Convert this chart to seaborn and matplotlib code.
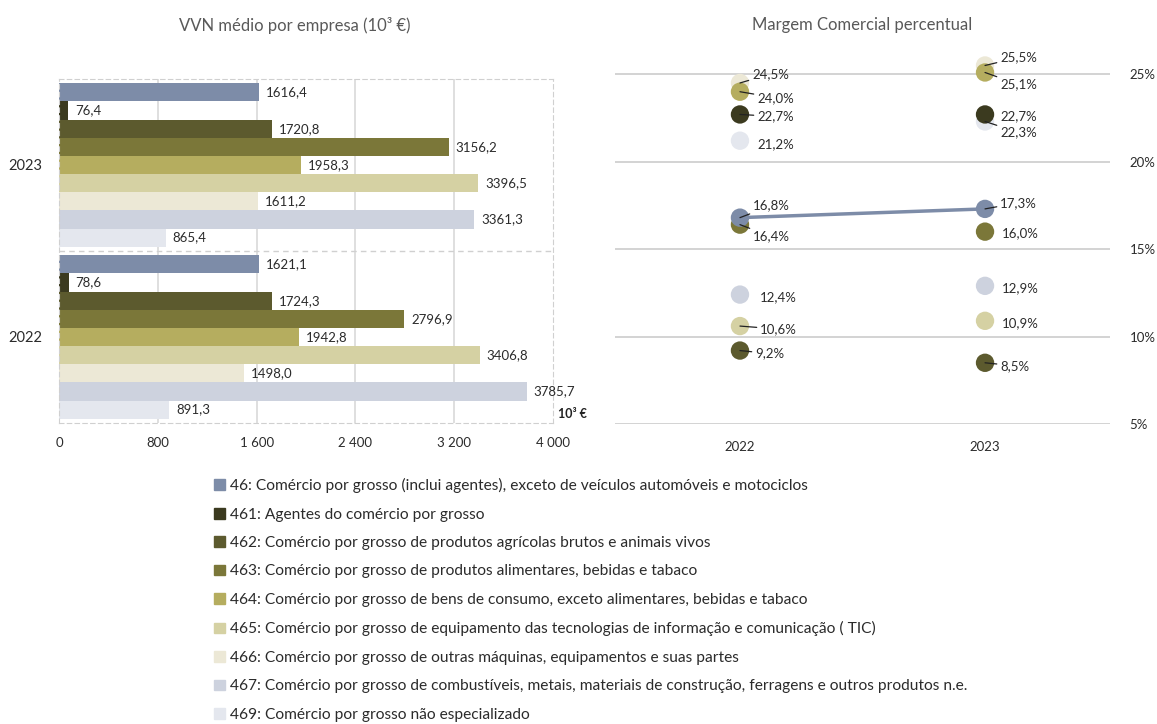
import pandas as pd
import matplotlib.pyplot as plt
import seaborn as sns

# data
years = ["2023", "2022"]
sectors = ["46", "461", "462", "463", "464", "465", "466", "467", "469"]
sector_names = [
    "46: Comércio por grosso (inclui agentes), exceto de veículos automóveis e motociclos",
    "461: Agentes do comércio por grosso",
    "462: Comércio por grosso de produtos agrícolas brutos e animais vivos",
    "463: Comércio por grosso de produtos alimentares, bebidas e tabaco",
    "464: Comércio por grosso de bens de consumo, exceto alimentares, bebidas e tabaco",
    "465: Comércio por grosso de equipamento das tecnologias de informação e comunicação ( TIC)",
    "466: Comércio por grosso de outras máquinas, equipamentos e suas partes",
    "467: Comércio por grosso de combustíveis, metais, materiais de construção, ferragens e outros produtos n.e.",
    "469: Comércio por grosso não especializado",
]
colors = ["#7d8ca8", "#3b3a1f", "#5c5a2e", "#7b7739", "#b5ad5f",
          "#d5d1a3", "#ece8d6", "#cdd2de", "#e4e7ee"]

vvn_2023 = [1616.4, 76.4, 1720.8, 3156.2, 1958.3, 3396.5, 1611.2, 3361.3, 865.4]
vvn_2022 = [1621.1, 78.6, 1724.3, 2796.9, 1942.8, 3406.8, 1498.0, 3785.7, 891.3]

margin_years = ["2022", "2023"]
margin_2022 = [16.8, 22.7, 9.2, 16.4, 24.0, 10.6, 24.5, 12.4, 21.2]
margin_2023 = [17.3, 22.7, 8.5, 16.0, 25.1, 10.9, 25.5, 12.9, 22.3]

x_ticks = [0, 800, 1600, 2400, 3200, 4000]
x_tick_labels = ["0", "800", "1 600", "2 400", "3 200", "4 000"]
y_ticks = [5, 10, 15, 20, 25]

# label offsets (pixels) and whether a leader line is drawn, per sector
off_2022 = [(13, 12, True), (17, -2, True), (15, -3, True), (13, -12, True), (17, -6, True),
            (20, -3, True), (12, 9, True), (20, -3, False), (17, -3, False)]
off_2023 = [(15, 6, True), (15, -2, False), (15, -3, True), (17, -2, False), (15, -12, True),
            (17, -2, False), (15, 8, True), (17, -2, False), (15, -11, True)]


def fmt(v, pct=False):
    s = f"{v:.1f}".replace(".", ",")
    return s + "%" if pct else s


sns.set_style("white")
plt.rcParams["font.family"] = ["Lato", "DejaVu Sans"]
text_col = "#2b2b2b"

fig = plt.figure(figsize=(11.57, 7.24), dpi=100)
W, H = 1157, 724

# ---------- left: bars ----------
bars = pd.DataFrame({
    "year": [y for y in years for _ in sectors],
    "sector": sectors * 2,
    "value": vvn_2023 + vvn_2022,
})
ax1 = fig.add_axes([59 / W, 1 - 423 / H, 494 / W, 344 / H])
sns.barplot(data=bars, y="year", x="value", hue="sector", order=years,
            hue_order=sectors, palette=colors, orient="h", width=0.95,
            saturation=1, linewidth=0, legend=False, ax=ax1)
for c in ax1.containers:
    ax1.bar_label(c, labels=[fmt(v) for v in c.datavalues], padding=5,
                  fontsize=9.5, color=text_col)
ax1.set_xlim(0, 4000)
ax1.set_ylim(1.5, -0.5)
ax1.set_xticks(x_ticks, x_tick_labels)
for x in x_ticks[1:-1]:
    ax1.axvline(x, color="#d9d9d9", lw=1.2, zorder=0)
ax1.axhline(0.5, color="#d0d0d0", lw=1, ls=(0, (4, 3)), zorder=0)
for s in ax1.spines.values():
    s.set_color("#d0d0d0")
    s.set_linestyle((0, (4, 3)))
ax1.tick_params(axis="both", length=0, labelsize=9.5, labelcolor=text_col, pad=10)
ax1.tick_params(axis="y", labelsize=10.5, pad=12)
ax1.set_xlabel("")
ax1.set_ylabel("")
ax1.text(1.01, 0.01, "10³ €", transform=ax1.transAxes, fontsize=9,
         fontweight="bold", color="#222222", ha="left", va="bottom")

# ---------- right: margin points ----------
pts = pd.DataFrame({
    "x": [i for i in range(len(margin_years)) for _ in sectors],
    "sector": sectors * 2,
    "value": margin_2022 + margin_2023,
})
draw_order = ["469", "466", "464", "461", "467", "465", "462", "463", "46"]
pts["rank"] = pts["sector"].map({s: i for i, s in enumerate(draw_order)})
pts = pts.sort_values(["rank", "x"])
pal = dict(zip(sectors, colors))

ax2 = fig.add_axes([615 / W, 1 - 424 / H, 495 / W, 376 / H])
for y in y_ticks:
    ax2.axhline(y, color="#cccccc", lw=1.2, zorder=0)
sns.lineplot(data=pts[pts["sector"] == "46"], x="x", y="value",
             color=colors[0], lw=2.5, ax=ax2, zorder=2)
sns.scatterplot(data=pts, x="x", y="value", hue="sector", palette=pal,
                s=175, linewidth=0, legend=False, ax=ax2, zorder=3)

for xi, (vals, offs) in enumerate([(margin_2022, off_2022), (margin_2023, off_2023)]):
    for v, (dx, dy, lead) in zip(vals, offs):
        ap = dict(arrowstyle="-", color="#222222", lw=0.9, shrinkA=0, shrinkB=0) if lead else None
        ax2.annotate(fmt(v, True), xy=(xi, v), xytext=(dx, dy),
                     textcoords="offset pixels", ha="left", va="center",
                     fontsize=9.5, color=text_col, arrowprops=ap, zorder=4)

ax2.set_xlim(-0.51, 1.51)
ax2.set_ylim(5, 26.5)
ax2.set_xticks(range(len(margin_years)), margin_years)
ax2.set_yticks(y_ticks, [f"{y}%" for y in y_ticks])
ax2.yaxis.tick_right()
ax2.tick_params(axis="y", length=0, pad=14, labelsize=9.5, labelcolor=text_col)
ax2.tick_params(axis="x", length=0, pad=12, labelsize=9.5, labelcolor=text_col)
ax2.set_xlabel("")
ax2.set_ylabel("")
sns.despine(ax=ax2, left=True, bottom=True)

# titles
fig.text(295 / W, 1 - 25 / H, "VVN médio por empresa (10³ €)", ha="center",
         va="center", fontsize=12, color="#595959")
fig.text(862 / W, 1 - 25 / H, "Margem Comercial percentual", ha="center",
         va="center", fontsize=12, color="#595959")

# legend
handles = [plt.Rectangle((0, 0), 1, 1, color=c) for c in colors]
fig.legend(handles, sector_names, loc="upper left",
           bbox_to_anchor=(214 / W, 1 - 478 / H), frameon=False, ncol=1,
           fontsize=11.2, labelcolor=text_col, handlelength=0.7,
           handleheight=0.7, handletextpad=0.3, labelspacing=0.93,
           borderaxespad=0, borderpad=0)

fig.savefig("out.png", dpi=100)
